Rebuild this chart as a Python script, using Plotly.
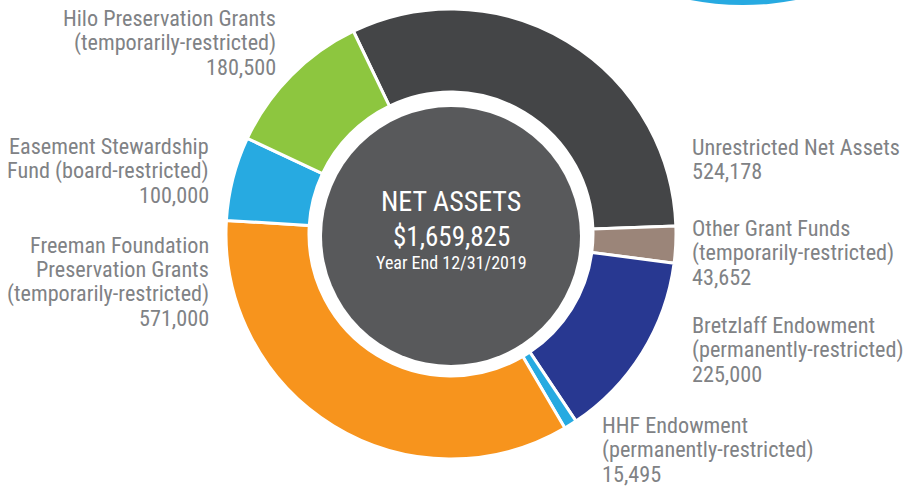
import plotly.graph_objects as go

# Net assets by fund, year end 12/31/2019 (clockwise from the top)
labels = [
    ["Unrestricted Net Assets"],
    ["Other Grant Funds", "(temporarily-restricted)"],
    ["Bretzlaff Endowment", "(permanently-restricted)"],
    ["HHF Endowment", "(permanently-restricted)"],
    ["Freeman Foundation", "Preservation Grants", "(temporarily-restricted)"],
    ["Easement Stewardship", "Fund (board-restricted)"],
    ["Hilo Preservation Grants", "(temporarily-restricted)"],
]
values = [524178, 43652, 225000, 15495, 571000, 100000, 180500]
colors = ["#444547", "#9b8579", "#283891", "#27aae1", "#f7941d", "#27aae1", "#8dc63f"]

W, H = 911, 488
FONT = "Liberation Sans Narrow, Roboto Condensed, Roboto, sans-serif"
GREY = "#808285"

# ring geometry in pixels
cx, cy, R = 451, 234, 225
hole_r = 142
core_r = 129

# label anchors: (x, y of first line, side)
label_pos = [
    (690, 147, "left"),
    (690, 228, "left"),
    (690, 325, "left"),
    (600, 425, "left"),
    (211, 245, "right"),
    (211, 146, "right"),
    (278, 18, "right"),
]
LINE = 24.3

fig = go.Figure()

fig.add_trace(go.Pie(
    values=values,
    labels=[" ".join(l) for l in labels],
    sort=False,
    direction="clockwise",
    rotation=-25.7,
    hole=hole_r / R,
    marker=dict(colors=colors, line=dict(color="white", width=3)),
    textinfo="none",
    hoverinfo="label+value",
    showlegend=False,
    domain=dict(
        x=[(cx - R) / W, (cx + R) / W],
        y=[(H - cy - R) / H, (H - cy + R) / H],
    ),
))

annotations = []
for lines, v, (x, y, side) in zip(labels, values, label_pos):
    for i, t in enumerate(lines + [f"{v:,}"]):
        annotations.append(dict(
            x=x / W, y=1 - (y + i * LINE) / H,
            xref="paper", yref="paper",
            text=t, showarrow=False,
            xanchor=side, yanchor="middle",
            font=dict(family=FONT, size=22.2, color=GREY),
        ))

total = sum(values)
center_text = [
    ("NET ASSETS", 202, 28),
    (f"${total:,}", 237, 27),
    ("Year End 12/31/2019", 262, 18),
]
for t, y, s in center_text:
    annotations.append(dict(
        x=cx / W, y=1 - y / H, xref="paper", yref="paper",
        text=t, showarrow=False,
        xanchor="center", yanchor="middle",
        font=dict(family=FONT, size=s, color="white"),
    ))

shapes = [
    # dark centre disc
    dict(type="circle", xref="paper", yref="paper",
         x0=(cx - core_r) / W, x1=(cx + core_r) / W,
         y0=(H - cy - 2 - core_r) / H, y1=(H - cy - 2 + core_r) / H,
         fillcolor="#58595b", line=dict(width=0), layer="above"),
    # blue decoration peeking in at top right
    dict(type="circle", xref="paper", yref="paper",
         x0=(743 - 281) / W, x1=(743 + 281) / W,
         y0=(H - 5) / H, y1=(H - 5 + 562) / H,
         fillcolor="#27aae1", line=dict(width=0), layer="below"),
]

fig.update_layout(
    width=W, height=H,
    margin=dict(l=0, r=0, t=0, b=0),
    paper_bgcolor="white",
    plot_bgcolor="white",
    annotations=annotations,
    shapes=shapes,
)

# drop the browser's default body margin so the figure sits at the page corner
fig.write_html(
    "out.html",
    config={"displayModeBar": False},
    post_script="document.body.style.margin='0';",
)
